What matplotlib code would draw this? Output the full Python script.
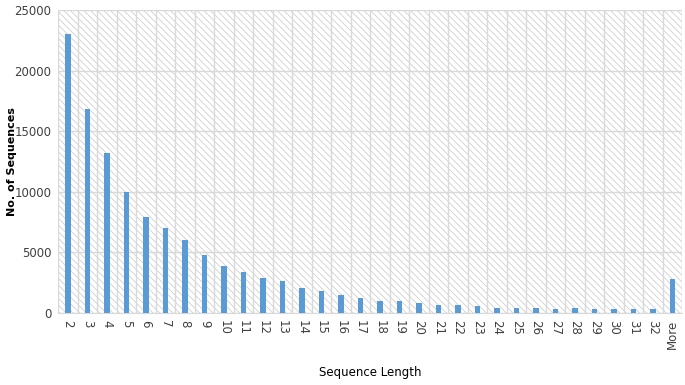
import numpy as np
import matplotlib
matplotlib.use("Agg")
import matplotlib.pyplot as plt
from matplotlib.patches import Rectangle

plt.rcParams['hatch.linewidth'] = 0.6

# data
lengths = [str(i) for i in range(2, 33)] + ["More"]
counts = [23000, 16800, 13200, 10000, 7900, 7000, 6000, 4800, 3900, 3400,
          2900, 2600, 2100, 1800, 1500, 1200, 1000, 950, 800, 700,
          700, 550, 450, 450, 450, 300, 450, 300, 300, 300,
          300, 2800]
yticks = [0, 5000, 10000, 15000, 20000, 25000]

fig = plt.figure(figsize=(6.85, 3.85), dpi=100)
ax = fig.add_axes([0.085, 0.187, 0.911, 0.787])

x = np.arange(len(lengths))

# hatched background
ax.add_patch(Rectangle((0, 0), 1, 1, transform=ax.transAxes, facecolor="white",
                       edgecolor="#cfcfcf", hatch="\\\\\\\\\\", lw=0, zorder=0))

ax.bar(x, counts, width=0.28, color="#5b9bd5", zorder=3)

ax.set_xlim(-0.5, len(lengths) - 0.5)
ax.set_ylim(0, 25000)
ax.set_yticks(yticks)
ax.set_yticklabels([str(v) for v in yticks], fontsize=8.5, color="#404040")

# grid lines
for v in yticks:
    ax.axhline(v, color="#d9d9d9", lw=1, zorder=1)
for b in np.arange(-0.5, len(lengths), 1):
    ax.axvline(b, color="#d9d9d9", lw=1, zorder=1)

ax.set_xticks(x)
ax.set_xticklabels(lengths, fontsize=8.5, color="#404040")
for lab in ax.get_xticklabels():
    lab.set_rotation(90 if lab.get_text() == "More" else 270)
    lab.set_va("top")
ax.tick_params(length=0, pad=5)

for s in ax.spines.values():
    s.set_visible(False)
ax.spines["bottom"].set_visible(True)
ax.spines["bottom"].set_color("#d9d9d9")

ax.set_ylabel("No. of Sequences", fontsize=8, fontweight="bold")
ax.yaxis.set_label_coords(-0.066, 0.5)
ax.set_xlabel("Sequence Length", fontsize=8.5, labelpad=12)

fig.savefig("out.png", dpi=100)
